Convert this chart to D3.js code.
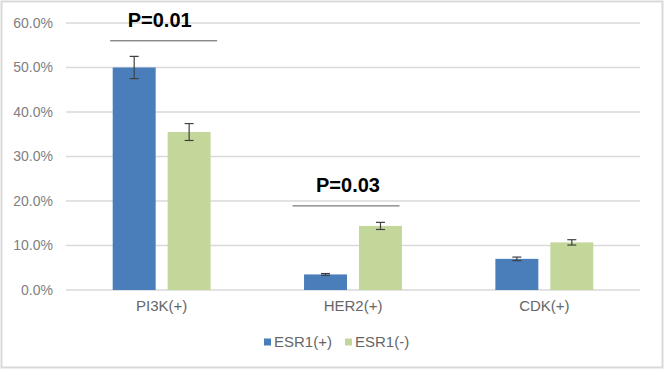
<!DOCTYPE html>
<html><head><meta charset="utf-8">
<script src="https://cdn.jsdelivr.net/npm/d3@7"></script>
<style>body{margin:0;background:#fff}svg{display:block}</style>
</head><body>
<svg id="c" width="666" height="371"></svg>
<script>
const categories = ["PI3K(+)", "HER2(+)", "CDK(+)"];
const seriesNames = ["ESR1(+)", "ESR1(-)"];
const esrPos = [50.0, 3.5, 7.0];
const esrNeg = [35.5, 14.4, 10.7];
const errPos = [2.5, 0.2, 0.4];
const errNeg = [1.9, 0.8, 0.6];
const yTicks = [0, 10, 20, 30, 40, 50, 60];
const pCats = ["PI3K(+)", "HER2(+)"];
const pTexts = ["P=0.01", "P=0.03"];
const pLevels = [56.0, 18.9];
const colors = ["#4a7ebb", "#c4d79b"];

const svg = d3.select("#c");
const W = 666, H = 371;
svg.append("rect").attr("x", 1.5).attr("y", 1.5).attr("width", W - 5).attr("height", H - 5)
  .attr("fill", "#fff").attr("stroke", "#d9d9d9").attr("stroke-width", 2);

const x0 = d3.scaleBand().domain(categories).range([66, 640]);
const x1 = d3.scaleBand().domain(seriesNames).range([0, x0.bandwidth()]).paddingInner(0.218).paddingOuter(0.85);
const y = d3.scaleLinear().domain([0, 60]).range([290, 23]);

// gridlines
svg.append("g").selectAll("line").data(yTicks).join("line")
  .attr("x1", 66).attr("x2", 640).attr("y1", d => y(d)).attr("y2", d => y(d))
  .attr("stroke", "#d9d9d9").attr("stroke-width", 1.3);

// y axis labels
const yAxis = d3.axisLeft(y).tickValues(yTicks).tickFormat(d => d.toFixed(1) + "%").tickSize(0).tickPadding(0);
const ga = svg.append("g").attr("transform", "translate(53,0)").call(yAxis);
ga.select(".domain").remove();
ga.selectAll("text").attr("font-family", "Liberation Sans, Arial, sans-serif").attr("font-size", 14).attr("fill", "#808080");

// bars
const data = categories.map((c, i) => ({cat: c, vals: [
  {s: seriesNames[0], v: esrPos[i], e: errPos[i], k: 0},
  {s: seriesNames[1], v: esrNeg[i], e: errNeg[i], k: 1}]}));

const g = svg.append("g").selectAll("g").data(data).join("g")
  .attr("transform", d => `translate(${x0(d.cat)},0)`);
g.selectAll("rect").data(d => d.vals).join("rect")
  .attr("x", d => x1(d.s)).attr("width", x1.bandwidth())
  .attr("y", d => y(d.v)).attr("height", d => y(0) - y(d.v))
  .attr("fill", d => colors[d.k]);

// error bars
const eb = g.selectAll("g.err").data(d => d.vals).join("g").attr("class", "err");
const cx = d => x1(d.s) + x1.bandwidth() / 2;
eb.append("line").attr("x1", cx).attr("x2", cx).attr("y1", d => y(d.v + d.e)).attr("y2", d => y(d.v - d.e));
eb.append("line").attr("x1", d => cx(d) - 4.5).attr("x2", d => cx(d) + 4.5).attr("y1", d => y(d.v + d.e)).attr("y2", d => y(d.v + d.e));
eb.append("line").attr("x1", d => cx(d) - 4.5).attr("x2", d => cx(d) + 4.5).attr("y1", d => y(d.v - d.e)).attr("y2", d => y(d.v - d.e));
eb.selectAll("line").attr("stroke", "#404040").attr("stroke-width", 1.2);

// category labels
const xAxis = d3.axisBottom(x0).tickSize(0).tickPadding(0);
const gx = svg.append("g").attr("transform", "translate(0,300)").call(xAxis);
gx.select(".domain").remove();
gx.selectAll("text").attr("font-family", "Liberation Sans, Arial, sans-serif").attr("font-size", 15).attr("fill", "#666").attr("dy", "0.71em");

// P-value annotations (line/text offsets relative to group centre, as drawn in the original)
const lineShift = [2, -7], textShift = [-2, -5], lineHalf = 53.5;
pCats.forEach((c, i) => {
  const mid = x0(c) + x0.bandwidth() / 2;
  const ly = y(pLevels[i]);
  svg.append("line").attr("x1", mid + lineShift[i] - lineHalf).attr("x2", mid + lineShift[i] + lineHalf)
    .attr("y1", ly).attr("y2", ly).attr("stroke", "#595959").attr("stroke-width", 1);
  svg.append("text").attr("x", mid + textShift[i]).attr("y", ly - 14).attr("text-anchor", "middle")
    .attr("font-family", "Liberation Sans, Arial, sans-serif").attr("font-weight", "bold").attr("font-size", 20)
    .attr("fill", "#000").text(pTexts[i]);
});

// legend
const lg = svg.append("g").attr("transform", "translate(264,342)");
const items = lg.selectAll("g").data(seriesNames).join("g").attr("transform", (d, i) => `translate(${i * 81},0)`);
items.append("rect").attr("x", 0).attr("y", -3.5).attr("width", 7).attr("height", 7).attr("fill", (d, i) => colors[i]);
items.append("text").attr("x", 10).attr("y", 0).attr("dy", "0.35em")
  .attr("font-family", "Liberation Sans, Arial, sans-serif").attr("font-size", 15).attr("fill", "#666").text(d => d);
</script>
</body></html>
